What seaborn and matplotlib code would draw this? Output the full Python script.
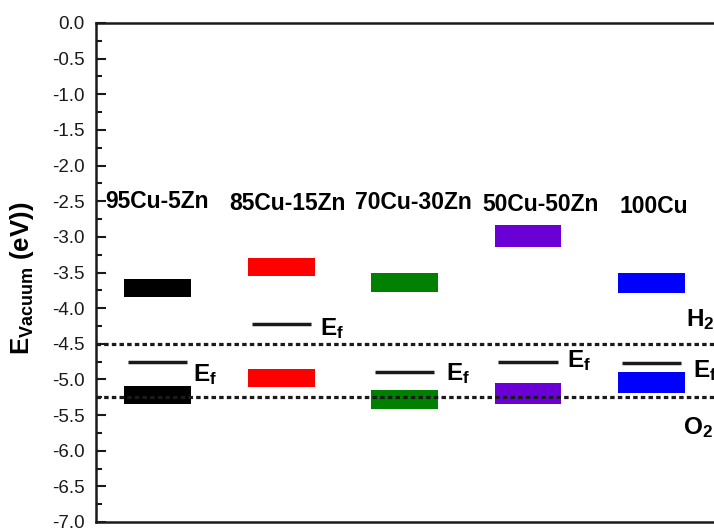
import numpy as np
import pandas as pd
import matplotlib
matplotlib.use("Agg")
import matplotlib.pyplot as plt
import seaborn as sns

# ---- data ----
samples = ["95Cu-5Zn", "85Cu-15Zn", "70Cu-30Zn", "50Cu-50Zn", "100Cu"]
cb_top = [-3.59, -3.29, -3.51, -2.84, -3.50]
cb_bot = [-3.84, -3.55, -3.77, -3.14, -3.79]
vb_top = [-5.09, -4.85, -5.15, -5.05, -4.90]
vb_bot = [-5.34, -5.11, -5.41, -5.34, -5.19]
fermi = [-4.75, -4.22, -4.90, -4.75, -4.77]
colors = ["#000000", "#FF0000", "#008000", "#6A00D6", "#0000FF"]
h2_level = -4.5
o2_level = -5.24
yticks = [0.0, -0.5, -1.0, -1.5, -2.0, -2.5, -3.0, -3.5, -4.0, -4.5,
          -5.0, -5.5, -6.0, -6.5, -7.0]

sns.set_theme(style="ticks")
plt.rcParams["font.family"] = ["Liberation Sans", "DejaVu Sans"]
plt.rcParams["mathtext.fontset"] = "custom"
plt.rcParams["mathtext.rm"] = "Liberation Sans"
plt.rcParams["mathtext.bf"] = "Liberation Sans:bold"
plt.rcParams["mathtext.it"] = "Liberation Sans:italic"
plt.rcParams["text.color"] = "black"
plt.rcParams["axes.labelcolor"] = "black"
plt.rcParams["ytick.color"] = "black"
plt.rcParams["axes.edgecolor"] = "black"

fig = plt.figure(figsize=(7.14, 5.32), dpi=100)
ax = fig.add_axes([96 / 714, 10 / 532, 642 / 714, 499 / 532])

df = pd.DataFrame({
    "sample": samples,
    "cb_h": np.subtract(cb_bot, cb_top),
    "cb_b": cb_top,
    "vb_h": np.subtract(vb_bot, vb_top),
    "vb_b": vb_top,
})

sns.barplot(data=df, x="sample", y="cb_h", bottom=df["cb_b"].values,
            color="k", width=0.54, errorbar=None, ax=ax, linewidth=0)
sns.barplot(data=df, x="sample", y="vb_h", bottom=df["vb_b"].values,
            color="k", width=0.54, errorbar=None, ax=ax, linewidth=0)
for i, p in enumerate(ax.patches):
    p.set_facecolor(colors[i % 5])
    p.set_edgecolor(colors[i % 5])

xs = np.arange(len(samples))
ax.hlines(fermi, xs - 0.24, xs + 0.24, colors="k", linewidth=2.5, zorder=3)

ax.axhline(h2_level, color="k", linestyle=(0, (1.4, 1)), linewidth=2.3, zorder=4)
ax.axhline(o2_level, color="k", linestyle=(0, (1.4, 1)), linewidth=2.3, zorder=4)

# labels
lab_y = [-2.50, -2.53, -2.525, -2.55, -2.58]
lab_x = [-0.008, 1.053, 2.073, 3.10, 4.02]
for x, y, s in zip(lab_x, lab_y, samples):
    ax.text(x, y, s, ha="center", va="center", fontsize=16.5, fontweight="bold",
            color="black")

ef_x = [0.283, 1.312, 2.332, 3.312, 4.332]
ef_y = [-4.93, -4.28, -4.92, -4.74, -4.88]
for x, y in zip(ef_x, ef_y):
    ax.text(x, y, r"$\mathbf{E_f}$", ha="left", va="center", fontsize=17.5,
            color="black")

ax.text(4.275, -4.16, r"$\mathbf{H_2}$", ha="left", va="center", fontsize=17.5,
        color="black")
ax.text(4.251, -5.67, r"$\mathbf{O_2}$", ha="left", va="center", fontsize=17.5,
        color="black")

ax.set_xlim(-0.5, 4.7)
ax.set_ylim(-7.0, 0.0)
ax.set_yticks(yticks)
ax.set_yticklabels([f"{v:.1f}" for v in yticks])
ax.set_yticks(np.arange(-6.75, 0, 0.5), minor=True)
ax.set_xticks([])
ax.set_xlabel("")
ax.set_ylabel(r"$\mathbf{E_{Vacuum}}$ (eV))", fontsize=18.5, fontweight="bold",
              color="black")
ax.yaxis.set_label_coords(-0.093, 0.489)

ax.tick_params(axis="y", which="major", direction="in", length=7, width=1.5,
               labelsize=13.5, pad=8, colors="k")
ax.tick_params(axis="y", which="minor", direction="in", length=4, width=1.5,
               colors="k")
for side in ["left", "bottom", "top"]:
    ax.spines[side].set_visible(True)
    ax.spines[side].set_linewidth(1.8)
    ax.spines[side].set_color("k")
ax.spines["right"].set_visible(False)
ax.grid(False)

fig.savefig("out.png", dpi=100)
